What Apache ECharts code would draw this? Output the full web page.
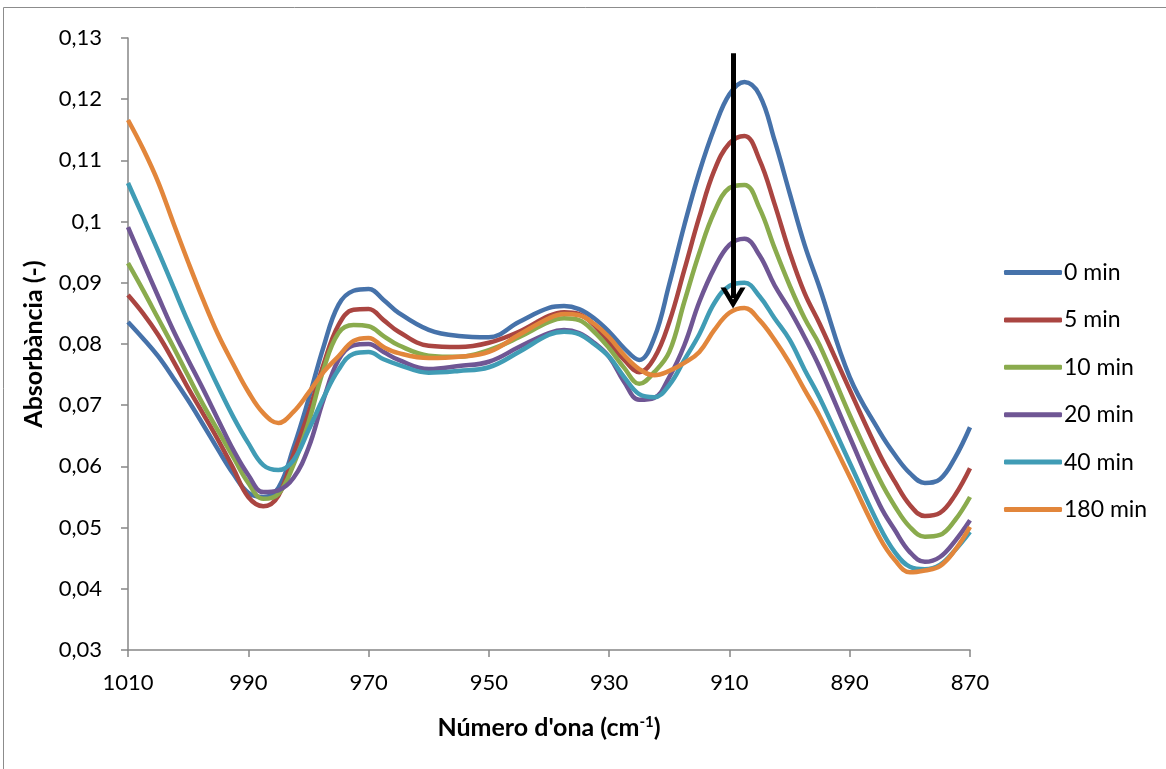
<!DOCTYPE html>
<html>
<head>
<meta charset="utf-8">
<script src="https://cdn.jsdelivr.net/npm/echarts@6/dist/echarts.min.js"></script>
<style>
  html, body { margin: 0; padding: 0; background: #fff; }
  #mainEchart { width: 1166px; height: 769px; }
</style>
</head>
<body>
<div id="mainEchart"></div>
<script>
  var names = ['0 min', '5 min', '10 min', '20 min', '40 min', '180 min'];

  // wavenumber (cm-1)
  var waveNum = [1010, 1007.5, 1005, 1002.5, 1000, 997.5, 995, 992.5, 990, 987.5,
                 985, 982.5, 980, 977.5, 975, 972.5, 970, 967.5, 965, 960,
                 955, 950, 945, 940, 937.5, 935, 932.5, 930, 927.5, 925,
                 922.5, 920, 917.5, 915, 912.5, 910, 907.5, 905, 902.5, 900,
                 897.5, 895, 890, 885, 882.5, 880, 877.5, 875, 872.5, 870];

  // absorbance, one array per exposure time
  var abs0 = [0.0836, 0.0809, 0.0780, 0.0745, 0.0708, 0.0668, 0.0627, 0.0588, 0.0557, 0.0550,
              0.0565, 0.0630, 0.0709, 0.0795, 0.0864, 0.0887, 0.0890, 0.0872, 0.0851, 0.0823,
              0.0813, 0.0811, 0.0836, 0.0859, 0.0862, 0.0857, 0.0842, 0.0820, 0.0793, 0.0774,
              0.0810, 0.0898, 0.0994, 0.1081, 0.1153, 0.1208, 0.1228, 0.1207, 0.1133, 0.1047,
              0.0962, 0.0892, 0.0746, 0.0656, 0.0619, 0.0589, 0.0573, 0.0579, 0.0614, 0.0664];
  var abs5 = [0.0880, 0.0850, 0.0815, 0.0773, 0.0728, 0.0686, 0.0643, 0.0597, 0.0550, 0.0535,
              0.0552, 0.0619, 0.0687, 0.0766, 0.0831, 0.0856, 0.0857, 0.0839, 0.0820, 0.0797,
              0.0795, 0.0802, 0.0820, 0.0846, 0.0852, 0.0849, 0.0831, 0.0802, 0.0774, 0.0754,
              0.0777, 0.0836, 0.0921, 0.1008, 0.1084, 0.1128, 0.1140, 0.1101, 0.1029, 0.0950,
              0.0883, 0.0833, 0.0725, 0.0619, 0.0575, 0.0537, 0.0519, 0.0524, 0.0553, 0.0597];
  var abs10 = [0.0932, 0.0888, 0.0842, 0.0796, 0.0748, 0.0701, 0.0658, 0.0615, 0.0573, 0.0547,
               0.0555, 0.0602, 0.0671, 0.0758, 0.0818, 0.0831, 0.0829, 0.0813, 0.0798, 0.0781,
               0.0779, 0.0790, 0.0811, 0.0836, 0.0842, 0.0839, 0.0820, 0.0793, 0.0761, 0.0735,
               0.0754, 0.0787, 0.0869, 0.0949, 0.1016, 0.1055, 0.1060, 0.1022, 0.0957, 0.0896,
               0.0842, 0.0798, 0.0684, 0.0578, 0.0535, 0.0501, 0.0485, 0.0488, 0.0512, 0.0550];
  var abs20 = [0.0991, 0.0934, 0.0878, 0.0823, 0.0774, 0.0726, 0.0676, 0.0627, 0.0586, 0.0558,
               0.0561, 0.0581, 0.0630, 0.0709, 0.0774, 0.0798, 0.0800, 0.0787, 0.0774, 0.0759,
               0.0764, 0.0771, 0.0795, 0.0818, 0.0823, 0.0818, 0.0802, 0.0779, 0.0738, 0.0709,
               0.0712, 0.0746, 0.0798, 0.0869, 0.0924, 0.0962, 0.0972, 0.0945, 0.0896, 0.0856,
               0.0811, 0.0762, 0.0648, 0.0537, 0.0496, 0.0460, 0.0444, 0.0452, 0.0478, 0.0512];
  var abs40 = [0.1063, 0.1008, 0.0952, 0.0894, 0.0836, 0.0782, 0.0730, 0.0681, 0.0638, 0.0602,
               0.0594, 0.0610, 0.0659, 0.0712, 0.0758, 0.0784, 0.0787, 0.0775, 0.0766, 0.0753,
               0.0756, 0.0762, 0.0787, 0.0815, 0.0820, 0.0816, 0.0800, 0.0779, 0.0746, 0.0718,
               0.0713, 0.0733, 0.0774, 0.0816, 0.0867, 0.0895, 0.0900, 0.0878, 0.0842, 0.0807,
               0.0758, 0.0712, 0.0606, 0.0501, 0.0460, 0.0436, 0.0432, 0.0439, 0.0463, 0.0493];
  var abs180 = [0.1166, 0.1119, 0.1065, 0.0999, 0.0934, 0.0872, 0.0815, 0.0767, 0.0722, 0.0687,
                0.0671, 0.0689, 0.0720, 0.0754, 0.0780, 0.0805, 0.0810, 0.0795, 0.0785, 0.0777,
                0.0779, 0.0787, 0.0815, 0.0842, 0.0849, 0.0847, 0.0833, 0.0811, 0.0782, 0.0759,
                0.0749, 0.0756, 0.0769, 0.0787, 0.0823, 0.0851, 0.0859, 0.0839, 0.0807, 0.0769,
                0.0725, 0.0682, 0.0583, 0.0483, 0.0447, 0.0427, 0.0430, 0.0437, 0.0463, 0.0501];

  // arrow marking the decrease of the 908 cm-1 band
  var arrowX = 909.4;
  var arrowFrom = 0.1275;
  var arrowTo = 0.0875;

  var colors = ['#4672AA', '#AA4541', '#8AAB4D', '#6F5694', '#409CB5', '#E2863B'];
  var allAbs = [abs0, abs5, abs10, abs20, abs40, abs180];

  function pairs(ys) {
    return waveNum.map(function (x, i) { return [x, ys[i]]; });
  }

  var series = names.map(function (n, i) {
    return {
      name: n,
      type: 'line',
      smooth: 0.4,
      symbol: 'none',
      lineStyle: { width: 4.5, color: colors[i] },
      itemStyle: { color: colors[i] },
      data: pairs(allAbs[i])
    };
  });

  series[0].markLine = {
    silent: true,
    symbol: ['none', 'path://M0,14 L11,0 L22,14 L17.5,14 L11,6 L4.5,14 Z'],
    symbolSize: [25, 21],
    label: { show: false },
    lineStyle: { color: '#000', width: 5, type: 'solid' },
    data: [[{ coord: [arrowX, arrowFrom] }, { coord: [arrowX, arrowTo] }]]
  };

  var font = 'Lato, "Open Sans", sans-serif';

  var option = {
    animation: false,
    color: colors,
    textStyle: { fontFamily: font },
    grid: { left: 128, right: 196, top: 38, bottom: 119, containLabel: false },
    graphic: [{
      type: 'rect',
      shape: { x: 3.5, y: 7.5, width: 1200, height: 800 },
      style: { fill: 'none', stroke: '#8c8c8c', lineWidth: 1 }
    }],
    legend: {
      orient: 'vertical',
      left: 999,
      top: 256,
      itemWidth: 58,
      itemHeight: 5,
      itemGap: 24.4,
      icon: 'roundRect',
      textStyle: { fontSize: 23, color: '#000', fontFamily: font, padding: [0, 0, 0, -3] },
      data: names
    },
    xAxis: {
      type: 'value',
      min: 870,
      max: 1010,
      interval: 20,
      inverse: true,
      name: 'Número d\'ona (cm{sup|-1})',
      nameLocation: 'middle',
      nameGap: 65,
      nameTextStyle: {
        fontSize: 25, fontWeight: 'bold', color: '#000', fontFamily: font,
        rich: { sup: { fontSize: 15, fontWeight: 'bold', verticalAlign: 'top', padding: [0, 0, 10, 0] } }
      },
      axisLine: { lineStyle: { color: '#868686', width: 1.5 } },
      axisTick: { show: true, length: 7, inside: false, lineStyle: { color: '#868686', width: 1.5 } },
      axisLabel: {
        fontSize: 22, color: '#000', margin: 22,
        formatter: function (v) { return String(v); }
      },
      splitLine: { show: false }
    },
    yAxis: {
      type: 'value',
      min: 0.03,
      max: 0.13,
      interval: 0.01,
      name: 'Absorbància (-)',
      nameLocation: 'middle',
      nameGap: 82,
      nameTextStyle: { fontSize: 25, fontWeight: 'bold', color: '#000', fontFamily: font },
      axisLine: { show: true, lineStyle: { color: '#868686', width: 1.5 } },
      axisTick: { show: true, length: 7, lineStyle: { color: '#868686', width: 1.5 } },
      axisLabel: {
        fontSize: 22, color: '#000', margin: 26,
        formatter: function (v) { return String(+v.toFixed(2)).replace('.', ','); }
      },
      splitLine: { show: false }
    },
    series: series
  };

  var myEcharts = echarts.init(document.getElementById('mainEchart'));
  myEcharts.setOption(option);
</script>
</body>
</html>
